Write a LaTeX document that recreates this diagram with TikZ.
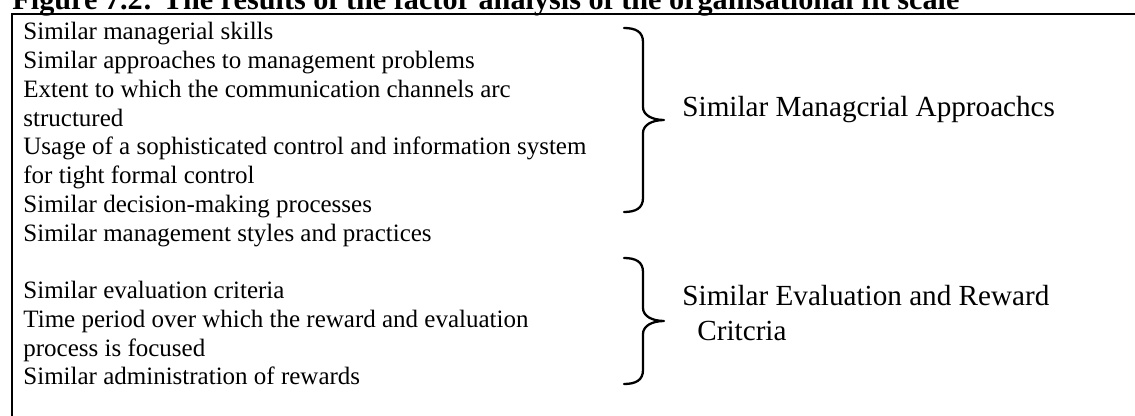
\documentclass[tikz,border=0pt]{standalone}
\usepackage{fontspec}
\setmainfont{Liberation Serif}
\begin{document}
\begin{tikzpicture}[x=0.48pt, y=-0.48pt,
  item/.style={anchor=base west, inner sep=0pt, font=\fontsize{12pt}{13.8pt}\selectfont},
  factor/.style={anchor=base west, inner sep=0pt, font=\fontsize{14pt}{16.1pt}\selectfont},
  heading/.style={anchor=base west, inner sep=0pt, font=\fontsize{14.5pt}{16.7pt}\selectfont\bfseries},
  rule/.style={line width=1.5pt*0.48},
  bracepath/.style={line width=1.1pt, line cap=round, line join=round}]
\useasboundingbox (0,0) rectangle (1135,416);

% heading above the table (its upper half lies beyond the page edge)
\node[heading] (title) at (12,10) {Figure 7.2: The results of the factor analysis of the organisational fit scale};

% table frame: top rule and left rule
\coordinate (tl) at (12,14);
\coordinate (tr) at (1135,14);
\coordinate (bl) at (12,416);
\draw[rule] (bl) -- (tl) -- (tr);

% items of the scale, one node per printed line
\node[item] (l1)  at (23,40)     {Similar managerial skills};
\node[item] (l2)  at (23,68.75)  {Similar approaches to management problems};
\node[item] (l3)  at (23,97.5)   {Extent to which the communication channels arc};
\node[item] (l4)  at (23,126.25) {structured};
\node[item] (l5)  at (23,155)    {Usage of a sophisticated control and information system};
\node[item] (l6)  at (23,183.75) {for tight formal control};
\node[item] (l7)  at (23,212.5)  {Similar decision-making processes};
\node[item] (l8)  at (23,241.25) {Similar management styles and practices};
\node[item] (l10) at (23,298.75) {Similar evaluation criteria};
\node[item] (l11) at (23,327.5)  {Time period over which the reward and evaluation};
\node[item] (l12) at (23,356.25) {process is focused};
\node[item] (l13) at (23,385)    {Similar administration of rewards};

% first factor brace
\draw[bracepath] (624,28) .. controls (636,28) and (643,32) .. (643,42)
  -- (643,107) .. controls (643,115) and (652,120) .. (664,120)
  .. controls (652,120) and (643,125) .. (643,133)
  -- (643,198) .. controls (643,208) and (636,212) .. (624,212);
\node[factor] (f1) at (682,117) {Similar Managcrial Approachcs};

% second factor brace
\draw[bracepath] (624,258) .. controls (636,258) and (643,262) .. (643,272)
  -- (643,308) .. controls (643,316) and (652,321) .. (664,321)
  .. controls (652,321) and (643,326) .. (643,334)
  -- (643,370) .. controls (643,380) and (636,384) .. (624,384);
\node[factor] (f2a) at (682,306) {Similar Evaluation and Reward};
\node[factor] (f2b) at (697,340) {Critcria};
\end{tikzpicture}
\end{document}
